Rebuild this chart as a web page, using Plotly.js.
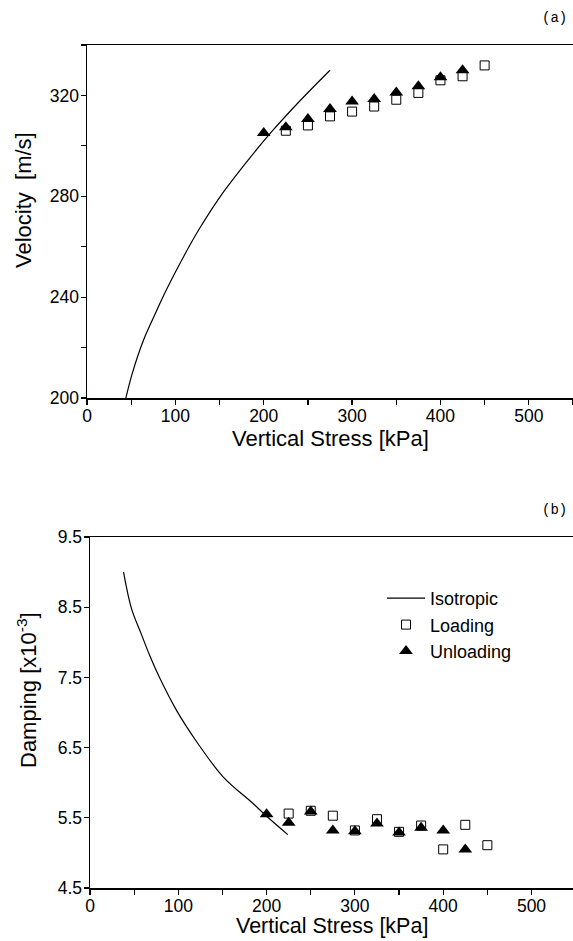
<!DOCTYPE html>
<html>
<head>
<meta charset="utf-8">
<script src="https://cdn.plot.ly/plotly-3.0.1.min.js"></script>
<style>html,body{margin:0;padding:0;background:#fff;}#chart{width:573px;height:941px;}</style>
</head>
<body>
<div id="chart"></div>
<script>
// ---- (a) Velocity vs vertical stress ----
const isoStressA = [44, 51, 64, 78, 90, 110, 127, 150, 185, 210, 240, 275];
const isoVelA    = [200, 209.5, 223, 234, 243, 256.5, 267, 279.5, 295.5, 306, 317.5, 330];
const loadStressA = [225, 250, 275, 300, 325, 350, 375, 400, 425, 450];
const loadVelA    = [306, 308.1, 311.7, 313.6, 315.6, 318.3, 321, 326, 327.6, 331.9];
const unloadStressA = [200, 225, 250, 275, 300, 325, 350, 375, 400, 425];
const unloadVelA    = [305.1, 307.4, 310.7, 314.6, 317.6, 318.6, 321.2, 323.6, 327.2, 330];
const xTickVals = [0, 100, 200, 300, 400, 500];
const yTickValsA = [200, 240, 280, 320];

// ---- (b) Damping vs vertical stress ----
const isoStressB = [38, 47, 58, 68, 79, 98, 121, 151, 185, 202, 224];
const isoDampB   = [9.0, 8.48, 8.12, 7.80, 7.49, 7.03, 6.58, 6.08, 5.70, 5.50, 5.26];
const loadStressB = [225, 250, 275, 300, 325, 350, 375, 400, 425, 450];
const loadDampB   = [5.56, 5.60, 5.53, 5.32, 5.48, 5.30, 5.39, 5.05, 5.40, 5.11];
const unloadStressB = [200, 225, 250, 275, 300, 325, 350, 375, 400, 425];
const unloadDampB   = [5.55, 5.43, 5.59, 5.32, 5.31, 5.42, 5.29, 5.36, 5.32, 5.05];
const yTickValsB = [4.5, 5.5, 6.5, 7.5, 8.5, 9.5];

const FONT = "Liberation Sans, Arial, Helvetica, sans-serif";
const MONO = "Liberation Mono, Courier New, monospace";
const lineStyle = {color: "#000", width: 1.2, shape: "spline", smoothing: 1};
const sqMarker = {symbol: "square-open", size: 9, color: "#000", line: {width: 1, color: "#000"}};
const triMarker = {symbol: "triangle-up", size: 12, color: "#000"};

const traces = [
  {x: isoStressA, y: isoVelA, mode: "lines", line: lineStyle, name: "Isotropic", xaxis: "x", yaxis: "y", showlegend: false},
  {x: loadStressA, y: loadVelA, mode: "markers", marker: sqMarker, name: "Loading", xaxis: "x", yaxis: "y", showlegend: false, cliponaxis: false},
  {x: unloadStressA, y: unloadVelA, mode: "markers", marker: triMarker, name: "Unloading", xaxis: "x", yaxis: "y", showlegend: false, cliponaxis: false},
  {x: isoStressB, y: isoDampB, mode: "lines", line: lineStyle, name: "Isotropic", xaxis: "x2", yaxis: "y2"},
  {x: loadStressB, y: loadDampB, mode: "markers", marker: sqMarker, name: "Loading", xaxis: "x2", yaxis: "y2", cliponaxis: false},
  {x: unloadStressB, y: unloadDampB, mode: "markers", marker: triMarker, name: "Unloading", xaxis: "x2", yaxis: "y2", cliponaxis: false}
];

const axBase = {
  showgrid: false, zeroline: false, showline: true, linecolor: "#000", linewidth: 1.5,
  ticks: "outside", ticklen: 5, tickwidth: 1.2, tickcolor: "#000",
  tickfont: {family: FONT, size: 17.5, color: "#000"}
};
const W = 573, H = 941;
const py = v => (H - v) / H;

const layout = {
  width: W, height: H,
  margin: {l: 0, r: 0, t: 0, b: 0},
  paper_bgcolor: "#fff", plot_bgcolor: "#fff",
  font: {family: FONT, color: "#000"},
  xaxis: Object.assign({}, axBase, {
    domain: [87 / W, 1], range: [0, 550], anchor: "y", mirror: true,
    tickvals: xTickVals, ticklabelstandoff: -4,
    minor: {dtick: 50, tick0: 0, ticks: "outside", ticklen: 5, tickcolor: "#000", showgrid: false}
  }),
  yaxis: Object.assign({}, axBase, {
    domain: [py(398), py(45)], range: [200, 340], anchor: "x",
    tickvals: yTickValsA, ticklabelstandoff: -2,
    minor: {dtick: 20, tick0: 200, ticks: "outside", ticklen: 5, tickcolor: "#000", showgrid: false}
  }),
  xaxis2: Object.assign({}, axBase, {
    domain: [90 / W, 1], range: [0, 547], anchor: "y2", mirror: true,
    tickvals: xTickVals, ticklabelstandoff: -4,
    minor: {dtick: 50, tick0: 0, ticks: "outside", ticklen: 5, tickcolor: "#000", showgrid: false}
  }),
  yaxis2: Object.assign({}, axBase, {
    domain: [py(888), py(537)], range: [4.5, 9.5], anchor: "x2",
    tickvals: yTickValsB, ticklabelstandoff: -2
  }),
  legend: {
    x: 382 / W, y: py(580), xanchor: "left", yanchor: "top",
    bgcolor: "rgba(0,0,0,0)", borderwidth: 0, itemwidth: 38,
    font: {family: FONT, size: 18, color: "#000"},
    tracegroupgap: 0
  },
  annotations: [
    {text: "(a)", xref: "paper", yref: "paper", x: 569 / W, y: py(18), xanchor: "right", yanchor: "middle",
     showarrow: false, font: {family: MONO, size: 14, color: "#000"}},
    {text: "(b)", xref: "paper", yref: "paper", x: 569 / W, y: py(510), xanchor: "right", yanchor: "middle",
     showarrow: false, font: {family: MONO, size: 14, color: "#000"}},
    {text: "Vertical Stress [kPa]", xref: "paper", yref: "paper", x: 330 / W, y: py(438), xanchor: "center", yanchor: "middle",
     showarrow: false, font: {family: FONT, size: 22, color: "#000"}},
    {text: "Vertical Stress [kPa]", xref: "paper", yref: "paper", x: 332 / W, y: py(926), xanchor: "center", yanchor: "middle",
     showarrow: false, font: {family: FONT, size: 21.5, color: "#000"}},
    {text: "Velocity  [m/s]", xref: "paper", yref: "paper", x: 23 / W, y: py(200), xanchor: "center", yanchor: "middle",
     textangle: -90, showarrow: false, font: {family: FONT, size: 22, color: "#000"}},
    {text: "Damping [x10<sup>-3</sup>]", xref: "paper", yref: "paper", x: 27 / W, y: py(690), xanchor: "center", yanchor: "middle",
     textangle: -90, showarrow: false, font: {family: FONT, size: 22, color: "#000"}}
  ],
  showlegend: true
};

Plotly.newPlot("chart", traces, layout, {staticPlot: true, displayModeBar: false});
</script>
</body>
</html>
